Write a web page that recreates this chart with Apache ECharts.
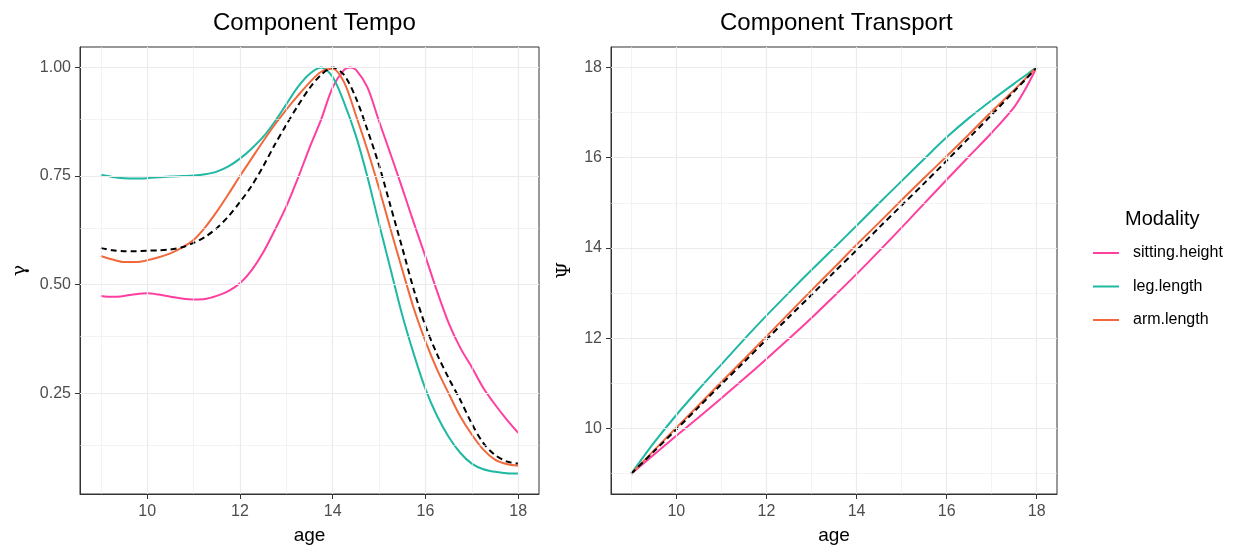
<!DOCTYPE html>
<html>
<head>
<meta charset="utf-8">
<script src="https://cdn.jsdelivr.net/npm/echarts@6.0.0/dist/echarts.min.js"></script>
<style>
  html, body { margin: 0; padding: 0; background: #fff; }
  #chart { width: 1239px; height: 550px; }
</style>
</head>
<body>
<div id="chart"></div>
<script>
// ---- data ----
const modalities = ['sitting.height', 'leg.length', 'arm.length'];
const colors = ['#ff3fa0', '#1fb8a3', '#f2683d'];

// left panel: Component Tempo (gamma vs age), sampled every 0.25 years
const tempoAges = [9, 9.25, 9.5, 9.75, 10, 10.25, 10.5, 10.75, 11, 11.25, 11.5, 11.75, 12, 12.25, 12.5, 12.75, 13, 13.25, 13.5, 13.75, 14, 14.25, 14.5, 14.75, 15, 15.25, 15.5, 15.75, 16, 16.25, 16.5, 16.75, 17, 17.25, 17.5, 17.75, 18];
const tempoLeg = [0.753, 0.748, 0.745, 0.744, 0.745, 0.747, 0.749, 0.75, 0.751, 0.754, 0.76, 0.772, 0.79, 0.813, 0.84, 0.875, 0.915, 0.955, 0.985, 1.0, 0.978, 0.918, 0.843, 0.748, 0.64, 0.535, 0.43, 0.34, 0.26, 0.198, 0.15, 0.113, 0.088, 0.075, 0.069, 0.066, 0.065];
const tempoArm = [0.566, 0.558, 0.552, 0.552, 0.556, 0.563, 0.572, 0.585, 0.603, 0.632, 0.668, 0.708, 0.75, 0.79, 0.83, 0.868, 0.903, 0.935, 0.965, 0.99, 0.997, 0.965, 0.89, 0.81, 0.722, 0.627, 0.535, 0.445, 0.37, 0.305, 0.25, 0.197, 0.155, 0.12, 0.097, 0.087, 0.083];
const tempoMean = [0.584, 0.579, 0.577, 0.577, 0.578, 0.579, 0.581, 0.586, 0.596, 0.61, 0.63, 0.657, 0.69, 0.727, 0.772, 0.822, 0.868, 0.912, 0.952, 0.983, 1.0, 0.982, 0.93, 0.856, 0.775, 0.68, 0.585, 0.488, 0.405, 0.34, 0.285, 0.235, 0.18, 0.135, 0.108, 0.093, 0.088];
// sitting.height peaks later (about 14.4), so it has one extra sample at its top
const tempoAgesSitting = [9, 9.25, 9.5, 9.75, 10, 10.25, 10.5, 10.75, 11, 11.25, 11.5, 11.75, 12, 12.25, 12.5, 12.75, 13, 13.25, 13.5, 13.75, 14, 14.25, 14.375, 14.5, 14.75, 15, 15.25, 15.5, 15.75, 16, 16.25, 16.5, 16.75, 17, 17.25, 17.5, 17.75, 18];
const tempoSitting = [0.474, 0.472, 0.474, 0.478, 0.48, 0.477, 0.472, 0.468, 0.466, 0.467, 0.474, 0.485, 0.503, 0.533, 0.574, 0.625, 0.68, 0.745, 0.815, 0.88, 0.954, 0.995, 1.0, 0.995, 0.954, 0.876, 0.8, 0.722, 0.642, 0.565, 0.485, 0.412, 0.355, 0.31, 0.262, 0.224, 0.19, 0.159];

// right panel: Component Transport (psi vs age)
const transAges = [9, 9.5, 10, 10.5, 11, 11.5, 12, 12.5, 13, 13.5, 14, 14.5, 15, 15.5, 16, 16.5, 17, 17.5, 17.75, 18];
const transSitting = [9, 9.42, 9.84, 10.25, 10.67, 11.1, 11.54, 11.99, 12.45, 12.93, 13.42, 13.93, 14.45, 14.98, 15.51, 16.03, 16.55, 17.12, 17.52, 18];
const transLeg = [9, 9.68, 10.3, 10.87, 11.42, 11.97, 12.5, 13.01, 13.51, 14.0, 14.49, 14.99, 15.48, 15.97, 16.45, 16.88, 17.27, 17.64, 17.82, 18];
const transArm = [9, 9.51, 10.02, 10.52, 11.03, 11.53, 12.04, 12.55, 13.06, 13.56, 14.07, 14.56, 15.06, 15.55, 16.03, 16.52, 17.02, 17.5, 17.75, 18];
const transMean = [9, 9.49, 9.98, 10.48, 10.98, 11.47, 11.97, 12.47, 12.96, 13.46, 13.95, 14.45, 14.94, 15.43, 15.93, 16.44, 16.95, 17.47, 17.73, 18];

// ticks / gridlines
const ageMajor = [10, 12, 14, 16, 18];
const ageMinor = [9, 11, 13, 15, 17];
const gammaMajor = [0.25, 0.5, 0.75, 1.0];
const gammaMinor = [0.125, 0.375, 0.625, 0.875];
const psiMajor = [10, 12, 14, 16, 18];
const psiMinor = [9, 11, 13, 15, 17];

// ---- helpers ----
const pairs = (xs, ys) => xs.map((x, i) => [x, ys[i]]);
const font = 'Liberation Sans, Arial, Helvetica, sans-serif';

function gridLines(idx, xs, ys, width) {
  return {
    type: 'line', xAxisIndex: idx, yAxisIndex: idx, data: [], silent: true, z: 1,
    markLine: {
      silent: true, symbol: ['none', 'none'], animation: false,
      label: { show: false },
      lineStyle: { color: '#ebebeb', width: width, type: 'solid' },
      emphasis: { disabled: true },
      data: xs.map(v => ({ xAxis: v })).concat(ys.map(v => ({ yAxis: v })))
    }
  };
}

function curve(name, idx, xs, ys, color, dashed) {
  return {
    name: name, type: 'line', xAxisIndex: idx, yAxisIndex: idx,
    data: pairs(xs, ys), smooth: 0.3, showSymbol: false, symbol: 'none',
    z: 3, silent: true,
    lineStyle: { color: color, width: 2, type: dashed ? [6, 4] : 'solid' },
    itemStyle: { color: color }
  };
}

function xAxisFor(idx) {
  return {
    type: 'value', gridIndex: idx, min: 8.55, max: 18.45,
    name: 'age', nameLocation: 'middle', nameGap: 32,
    nameTextStyle: { color: '#000', fontSize: 19, fontFamily: font },
    axisLine: { show: true, onZero: false, lineStyle: { color: '#333', width: 1 } },
    axisTick: { show: true, customValues: ageMajor, length: 5, lineStyle: { color: '#333', width: 1 } },
    axisLabel: { customValues: ageMajor, color: '#4d4d4d', fontSize: 16, fontFamily: font, margin: 10 },
    splitLine: { show: false }
  };
}

const chart = echarts.init(document.getElementById('chart'), null, { renderer: 'canvas' });

chart.setOption({
  animation: false,
  backgroundColor: '#fff',
  title: [
    { text: 'Component Tempo', left: 208, top: 6, textStyle: { fontSize: 24, fontWeight: 'normal', color: '#000', fontFamily: font } },
    { text: 'Component Transport', left: 715, top: 6, textStyle: { fontSize: 24, fontWeight: 'normal', color: '#000', fontFamily: font } },
    { text: 'Modality', left: 1120, top: 204, textStyle: { fontSize: 20, fontWeight: 'normal', color: '#000', fontFamily: font } }
  ],
  legend: {
    data: modalities, orient: 'vertical', left: 1093, top: 245, padding: 0,
    icon: 'rect', itemWidth: 26, itemHeight: 2, itemGap: 17.5,
    textStyle: { fontSize: 16, color: '#000', fontFamily: font, padding: [0, 0, 0, 9], lineHeight: 16 },
    selectedMode: false
  },
  grid: [
    { left: 80, top: 47, width: 459, height: 449, show: true, borderColor: '#333', borderWidth: 1, backgroundColor: '#fff' },
    { left: 611, top: 47, width: 446, height: 449, show: true, borderColor: '#333', borderWidth: 1, backgroundColor: '#fff' }
  ],
  xAxis: [xAxisFor(0), xAxisFor(1)],
  yAxis: [
    {
      type: 'value', gridIndex: 0, min: 0.018, max: 1.047,
      name: 'γ', nameLocation: 'middle', nameGap: 50, nameRotate: 90,
      nameTextStyle: { color: '#000', fontSize: 19, fontFamily: 'DejaVu Serif, serif' },
      axisLine: { show: true, onZero: false, lineStyle: { color: '#333', width: 1 } },
      axisTick: { show: true, customValues: gammaMajor, length: 5, lineStyle: { color: '#333', width: 1 } },
      axisLabel: { customValues: gammaMajor, color: '#4d4d4d', fontSize: 16, fontFamily: font, margin: 9, formatter: v => v.toFixed(2) },
      splitLine: { show: false }
    },
    {
      type: 'value', gridIndex: 1, min: 8.55, max: 18.45,
      name: 'Ψ', nameLocation: 'middle', nameGap: 36, nameRotate: 90,
      nameTextStyle: { color: '#000', fontSize: 19, fontFamily: 'DejaVu Serif, serif' },
      axisLine: { show: true, onZero: false, lineStyle: { color: '#333', width: 1 } },
      axisTick: { show: true, customValues: psiMajor, length: 5, lineStyle: { color: '#333', width: 1 } },
      axisLabel: { customValues: psiMajor, color: '#4d4d4d', fontSize: 16, fontFamily: font, margin: 9 },
      splitLine: { show: false }
    }
  ],
  series: [
    gridLines(0, ageMinor, gammaMinor, 0.6),
    gridLines(0, ageMajor, gammaMajor, 1.2),
    gridLines(1, ageMinor, psiMinor, 0.6),
    gridLines(1, ageMajor, psiMajor, 1.2),
    curve('sitting.height', 0, tempoAgesSitting, tempoSitting, colors[0]),
    curve('leg.length', 0, tempoAges, tempoLeg, colors[1]),
    curve('arm.length', 0, tempoAges, tempoArm, colors[2]),
    curve('mean', 0, tempoAges, tempoMean, '#000', true),
    curve('sitting.height', 1, transAges, transSitting, colors[0]),
    curve('leg.length', 1, transAges, transLeg, colors[1]),
    curve('arm.length', 1, transAges, transArm, colors[2]),
    curve('mean', 1, transAges, transMean, '#000', true)
  ]
});
</script>
</body>
</html>
